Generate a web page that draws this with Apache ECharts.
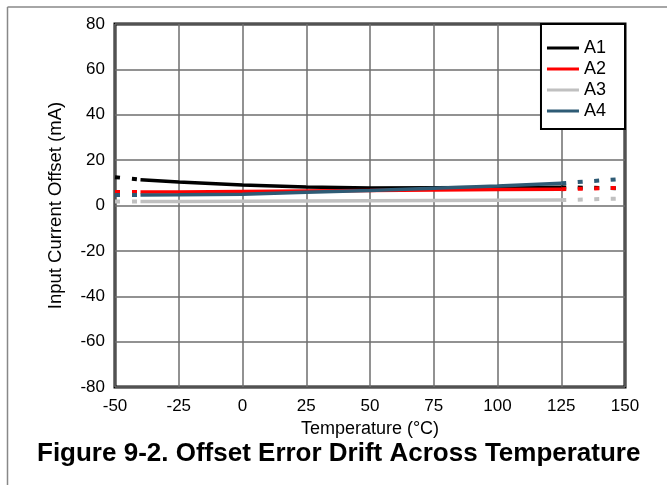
<!DOCTYPE html>
<html>
<head>
<meta charset="utf-8">
<script src="https://cdn.jsdelivr.net/npm/echarts@6/dist/echarts.min.js"></script>
<style>
  html, body { margin: 0; padding: 0; background: #fff; }
  #chart { width: 667px; height: 485px; }
</style>
</head>
<body>
<div id="chart"></div>
<script>
// measured temps (solid part of the curves)
const temps = [-40, -25, 0, 25, 50, 75, 100, 125]
const a1 = [11.4, 10.4, 9.0, 8.1, 7.7, 7.8, 7.9, 8.0]
const a2 = [5.9, 6.0, 6.2, 6.4, 6.6, 6.8, 7.0, 7.2]
const a3 = [1.8, 1.8, 1.9, 2.0, 2.1, 2.2, 2.3, 2.4]
const a4 = [4.6, 4.7, 5.0, 5.8, 6.6, 7.6, 8.6, 9.8]

// dotted extrapolation at both ends
const tempsLow = [-50, -40]
const tempsHigh = [125, 150]
const a1Low = [12.5, 11.4]
const a1High = [8.0, 7.6]
const a2Low = [5.9, 5.9]
const a2High = [7.2, 7.8]
const a3Low = [1.8, 1.8]
const a3High = [2.4, 3.1]
const a4Low = [4.6, 4.6]
const a4High = [9.8, 11.8]

const names = ['A1', 'A2', 'A3', 'A4']
const colors = ['#000000', '#ff0000', '#c0c0c0', '#2e5b75']
const mainVals = [a1, a2, a3, a4]
const lowVals = [a1Low, a2Low, a3Low, a4Low]
const highVals = [a1High, a2High, a3High, a4High]

const pairs = (xs, ys) => xs.map((x, i) => [x, ys[i]])

const font = 'Liberation Sans, Arial, sans-serif'
const series = []
names.forEach((name, i) => {
  series.push({
    name: name,
    type: 'line',
    symbol: 'none',
    data: pairs(temps, mainVals[i]),
    lineStyle: { color: colors[i], width: 3.5 },
    itemStyle: { color: colors[i] },
    z: 3 + i
  })
  series.push({
    name: name + ' low',
    type: 'line',
    symbol: 'none',
    data: pairs(tempsLow, lowVals[i]),
    lineStyle: { color: colors[i], width: 4, type: [5, 12], cap: 'butt' },
    z: 3 + i
  })
  series.push({
    name: name + ' high',
    type: 'line',
    symbol: 'none',
    data: pairs(tempsHigh, highVals[i]),
    lineStyle: { color: colors[i], width: 4, type: [5, 11.5], cap: 'butt' },
    z: 3 + i
  })
})

const chart = echarts.init(document.getElementById('chart'))
chart.setOption({
  animation: false,
  backgroundColor: '#fff',
  textStyle: { fontFamily: font },
  grid: {
    left: 115, right: 42, top: 24, bottom: 98,
    show: true, borderColor: '#000', borderWidth: 3
  },
  graphic: [
    { type: 'line', shape: { x1: 7.5, y1: 7, x2: 667, y2: 7 }, style: { stroke: '#888', lineWidth: 1.5 }, z: 100 },
    { type: 'line', shape: { x1: 7.5, y1: 7, x2: 7.5, y2: 485 }, style: { stroke: '#888', lineWidth: 1.5 }, z: 100 },
    {
      type: 'text', left: 37, top: 441,
      style: { text: 'Figure 9-2. Offset Error Drift Across Temperature', font: 'bold 26px ' + font, fill: '#000' }
    }
  ],
  legend: {
    data: names.map(n => ({ name: n, icon: 'rect' })),
    orient: 'vertical',
    right: 42,
    top: 24,
    backgroundColor: '#fff',
    borderColor: '#000',
    borderWidth: 2,
    padding: [15, 19, 9, 6],
    itemWidth: 32,
    itemHeight: 3,
    itemGap: 3,
    textStyle: { fontSize: 18, color: '#000', fontFamily: font },
    z: 20
  },
  xAxis: {
    type: 'value',
    min: -50,
    max: 150,
    interval: 25,
    name: 'Temperature (°C)',
    nameLocation: 'middle',
    nameGap: 31,
    nameTextStyle: { fontSize: 18, color: '#000' },
    axisLine: { show: false },
    axisTick: { show: false },
    axisLabel: { fontSize: 17, color: '#000', margin: 11 },
    splitLine: { lineStyle: { color: '#6e6e6e', width: 1.5 } }
  },
  yAxis: {
    type: 'value',
    min: -80,
    max: 80,
    interval: 20,
    name: 'Input Current Offset (mA)',
    nameLocation: 'middle',
    nameGap: 50,
    nameTextStyle: { fontSize: 18.5, color: '#000' },
    axisLine: { show: false },
    axisTick: { show: false },
    axisLabel: { fontSize: 17, color: '#000', margin: 10 },
    splitLine: { lineStyle: { color: '#6e6e6e', width: 1.5 } }
  },
  series: series
})
</script>
</body>
</html>
